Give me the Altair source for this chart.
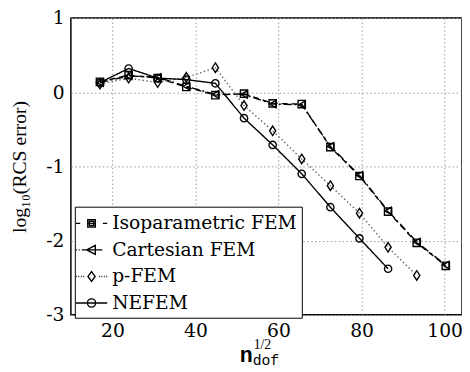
import altair as alt
import pandas as pd

# ---- data ----
series_names = ["Isoparametric FEM", "Cartesian FEM", "p-FEM", "NEFEM"]

n_x = [17.0, 23.9, 30.9, 37.8, 44.8, 51.7, 58.6, 65.6, 72.5, 79.5, 86.4, 93.3, 100.3]

iso_y = [0.14, 0.23, 0.19, 0.07, -0.04, -0.02, -0.15, -0.16, -0.74, -1.13, -1.61, -2.03, -2.34]
cart_y = [0.13, 0.22, 0.20, 0.08, -0.03, -0.03, -0.16, -0.17, -0.73, -1.12, -1.60, -2.02, -2.33]
pfem_y = [0.11, 0.19, 0.13, 0.20, 0.33, -0.18, -0.52, -0.90, -1.26, -1.63, -2.09, -2.47]
nefem_y = [0.13, 0.32, 0.19, 0.17, 0.12, -0.35, -0.71, -1.10, -1.55, -1.97, -2.38]

x_ticks = [20, 40, 60, 80, 100]
y_ticks = [-3, -2, -1, 0, 1]

rows = []
for name, ys in zip(series_names, [iso_y, cart_y, pfem_y, nefem_y]):
    for xv, yv in zip(n_x, ys):
        rows.append({"series": name, "x": xv, "y": yv})
df = pd.DataFrame(rows)

W, H = 398, 302
SERIF = "Liberation Serif"
LABSERIF = "DejaVu Serif"
MONO = "Liberation Mono"

x_enc = alt.X("x:Q", scale=alt.Scale(domain=[10, 104.2], nice=False, zero=False),
              axis=alt.Axis(values=x_ticks, title=None, labelFontSize=19, labelFont=LABSERIF,
                            labelColor="black", labelPadding=7, ticks=False, domain=False,
                            grid=True, labelFlush=False))
y_enc = alt.Y("y:Q", scale=alt.Scale(domain=[-3, 1], nice=False, zero=False),
              axis=alt.Axis(values=y_ticks, labelExpr="datum.value + ''",
                            title="log\u2081\u2080(RCS error)", titleFont=SERIF,
                            titleFontSize=20, titleFontWeight="normal", titleColor="black",
                            titleAngle=270, titleX=-52, titleY=H / 2, titleAlign="center",
                            titleBaseline="middle",
                            labelFontSize=19, labelFont=LABSERIF, labelColor="black",
                            labelPadding=7, ticks=False, domain=False, grid=True,
                            labelFlush=False))

lines = alt.Chart(df).mark_line(strokeWidth=1.4).encode(
    x=x_enc, y=y_enc,
    strokeDash=alt.StrokeDash("series:N", scale=alt.Scale(
        domain=series_names, range=[[6, 4], [8, 3, 2, 3], [1.5, 2.5], [1, 0]]), legend=None),
    color=alt.Color("series:N", scale=alt.Scale(
        domain=series_names, range=["black", "black", "#666666", "black"]), legend=None),
)

point_shapes = ["square", "triangle-left", "M0,-1.3L0.85,0L0,1.3L-0.85,0Z", "circle"]
points = alt.Chart(df).mark_point(filled=False, strokeWidth=1.4, size=55, color="black",
                                  opacity=1).encode(
    x="x:Q", y="y:Q",
    shape=alt.Shape("series:N", scale=alt.Scale(domain=series_names, range=point_shapes),
                    legend=None),
)

legend_paths = [
    "M-1.45,0H-1.05M1.05,0H1.45M-0.35,-0.35H0.35V0.35H-0.35ZM-0.35,0H0.35M-0.2,-0.2H0.2V0.2H-0.2Z",
    "M-1.45,0H-1.35M-1.2,0H-1.1M-0.9,0H1.0M-0.45,0L0.35,-0.42L0.35,0.42Z",
    "M-1.45,0H-1.37M-1.22,0H-1.14M-0.99,0H-0.91M-0.76,0H-0.68M0.68,0H0.76M0.91,0H0.99M1.14,0H1.22M1.37,0H1.45M0,-0.45L0.33,0L0,0.45L-0.33,0Z",
    "M-1.45,0H1.45M0.38,0A0.38,0.38 0 1,1 -0.38,0A0.38,0.38 0 1,1 0.38,0Z",
]
legend_layer = alt.Chart(df).transform_filter("false").mark_point(
    filled=False, strokeWidth=1.4, color="black", opacity=1).encode(
    x="x:Q", y="y:Q",
    shape=alt.Shape("series:N", scale=alt.Scale(domain=series_names, range=legend_paths),
                    legend=alt.Legend(title=None, orient="none", legendX=4, legendY=192,
                                      padding=5, fillColor="white", strokeColor="black",
                                      labelFont=LABSERIF, labelFontSize=19, labelColor="black",
                                      symbolSize=484, symbolStrokeWidth=1.4,
                                      symbolStrokeColor="black", symbolFillColor="transparent",
                                      rowPadding=5, labelOffset=9, labelLimit=400)),
)

t_n = alt.Chart(pd.DataFrame({"t": ["n"]})).mark_text(
    font=MONO, fontSize=22, fontWeight="bold", align="right",
    baseline="alphabetic", color="black").encode(
    text="t:N", x=alt.value(185), y=alt.value(350))
t_sup = alt.Chart(pd.DataFrame({"t": ["1/2"]})).mark_text(
    font=SERIF, fontSize=14, align="left", baseline="alphabetic", color="black").encode(
    text="t:N", x=alt.value(186), y=alt.value(337))
t_sub = alt.Chart(pd.DataFrame({"t": ["dof"]})).mark_text(
    font=MONO, fontSize=15, align="left", baseline="alphabetic",
    color="black").encode(
    text="t:N", x=alt.value(185), y=alt.value(353))

chart = alt.layer(lines, points, legend_layer, t_n, t_sup, t_sub).resolve_scale(
    shape="independent"
).properties(
    width=W, height=H,
    padding={"left": 64, "top": 7, "right": 0, "bottom": 53},
    autosize=alt.AutoSizeParams(type="none"),
).configure_view(
    stroke="black", strokeWidth=1.5
).configure_axis(
    gridColor="#999999", gridDash=[1.5, 2.5], gridWidth=1, gridOpacity=1
)

chart.save("out.html", embed_options={"renderer": "svg", "actions": False})
